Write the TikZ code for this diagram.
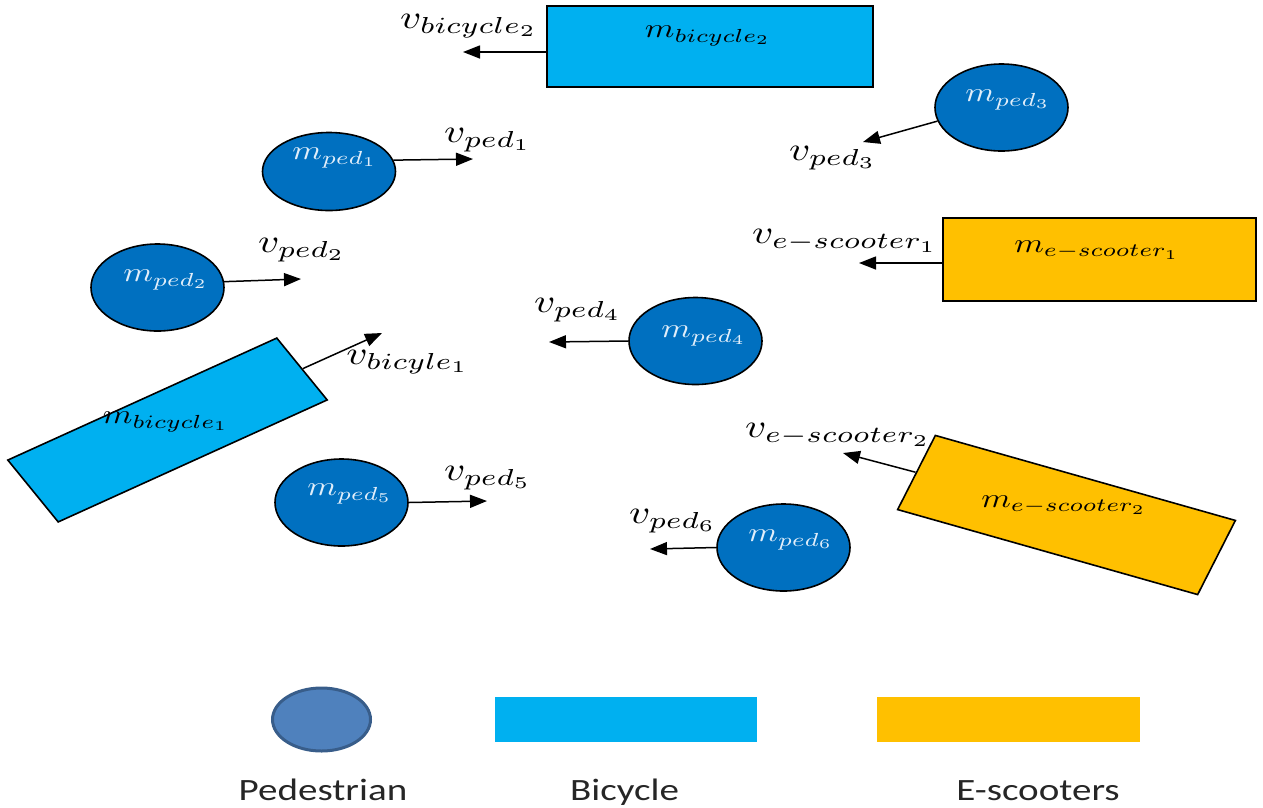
\documentclass[tikz,border=0pt]{standalone}
\usepackage{graphicx}
\usepackage{fontspec}
\newfontfamily\legendfont{Carlito}
\usetikzlibrary{shapes.geometric,arrows.meta}

\definecolor{pedblue}{RGB}{0,112,192}
\definecolor{bikeblue}{RGB}{0,176,240}
\definecolor{scooteryellow}{RGB}{255,192,0}
\definecolor{pedlabel}{RGB}{225,238,250}
\definecolor{legendblue}{RGB}{79,129,189}
\definecolor{legendedge}{RGB}{56,93,138}
\definecolor{legendtext}{RGB}{38,38,38}

% velocity labels, mass labels and legend captions (wide set)
\newcommand\vlab[1]{\scalebox{4.125}[3.3]{$#1$}}
\newcommand\mlab[1]{\scalebox{3.375}[2.7]{$#1$}}
\newcommand\leg[1]{\scalebox{1.26}[1]{\legendfont\fontsize{31}{34}\selectfont #1}}

\begin{document}
\begin{tikzpicture}[x=1pt,y=-1pt,
  ped/.style={ellipse,draw=black,line width=1.6pt,fill=pedblue,
    minimum width=133pt,minimum height=87pt,inner sep=0pt},
  bike/.style={rectangle,draw=black,line width=1.6pt,fill=bikeblue,inner sep=0pt},
  scoot/.style={rectangle,draw=black,line width=1.6pt,fill=scooteryellow,inner sep=0pt},
  vec/.style={line width=1.5pt,-{Triangle[length=17pt,width=13pt]}},
  lab/.style={inner sep=0pt,text=black},
  plab/.style={inner sep=0pt,text=pedlabel}]
\useasboundingbox (0,0) rectangle (1263,807);

% ---------- road users ----------
\node[bike,minimum width=326pt,minimum height=81pt] (bk2) at (710,46.5) {};
\node[ped,minimum height=78pt] (p1) at (329,171.5) {};
\node[ped] (p2) at (157.5,287.5) {};
\node[ped] (p3) at (1001.5,107.5) {};
\node[scoot,minimum width=313pt,minimum height=83pt] (sc1) at (1099.5,259.5) {};
\node[ped] (p4) at (695.5,341) {};
\node[ped] (p5) at (341.5,502.5) {};
\node[ped] (p6) at (783.5,547.5) {};

% tilted vehicles: rotated boxes in a horizontally widened frame
\begin{scope}[xscale=1.34]
  \node[bike,transform shape,minimum width=234.9pt,minimum height=72.4pt,rotate=31.29]
    (bk1) at (125,430) {};
  \node[scoot,transform shape,minimum width=239.5pt,minimum height=79.3pt,rotate=-20.79]
    (sc2) at (795.9,515) {};
\end{scope}

% ---------- mass labels ----------
\node[lab] (mbk2) at (708,36) {\mlab{m_{bicycle_2}}};
\node[plab] (mp1) at (335,158) {\mlab{m_{ped_1}}};
\node[plab] (mp2) at (166,280) {\mlab{m_{ped_2}}};
\node[plab] (mp3) at (1008,100) {\mlab{m_{ped_3}}};
\node[lab] (msc1) at (1097,250) {\mlab{m_{e-scooter_1}}};
\node[plab] (mp4) at (704,336) {\mlab{m_{ped_4}}};
\node[lab] (mbk1) at (166,422) {\mlab{m_{bicycle_1}}};
\node[plab] (mp5) at (350,494) {\mlab{m_{ped_5}}};
\node[lab] (msc2) at (1064,505) {\mlab{m_{e-scooter_2}}};
\node[plab] (mp6) at (791,540) {\mlab{m_{ped_6}}};

% ---------- velocity arrows ----------
\coordinate (tbk2) at (463,52);
\coordinate (tp1) at (473,159);
\coordinate (tp2) at (301,279);
\coordinate (tp3) at (863,142);
\coordinate (tsc1) at (859,263);
\coordinate (tp4) at (549,342);
\coordinate (tbk1) at (382,333);
\coordinate (tp5) at (487,501);
\coordinate (tsc2) at (843,453);
\coordinate (tp6) at (650,549);

\draw[vec] (tbk2 -| bk2.west) -- (tbk2);
\draw[vec] (p1.10) -- (tp1);
\draw[vec] (p2.5) -- (tp2);
\draw[vec] (p3.192) -- (tp3);
\draw[vec] (tsc1 -| sc1.west) -- (tsc1);
\draw[vec] (p4.west) -- (tp4);
\draw[vec] (bk1.east) -- (tbk1);
\draw[vec] (p5.east) -- (tp5);
\draw[vec] (sc2.west) -- (tsc2);
\draw[vec] (p6.west) -- (tp6);

% ---------- velocity labels ----------
\node[lab] (vbk2) at (469,26) {\vlab{v_{bicycle_2}}};
\node[lab] (vp1) at (488,140) {\vlab{v_{ped_1}}};
\node[lab] (vp2) at (302,250) {\vlab{v_{ped_2}}};
\node[lab] (vp3) at (833,158) {\vlab{v_{ped_3}}};
\node[lab] (vsc1) at (845,241) {\vlab{v_{e-scooter_1}}};
\node[lab] (vp4) at (578,310) {\vlab{v_{ped_4}}};
\node[lab] (vbk1) at (408,362) {\vlab{v_{bicyle_1}}};
\node[lab] (vp5) at (488,478) {\vlab{v_{ped_5}}};
\node[lab] (vsc2) at (838,435) {\vlab{v_{e-scooter_2}}};
\node[lab] (vp6) at (673,521) {\vlab{v_{ped_6}}};

% ---------- legend ----------
\node[ellipse,fill=legendblue,draw=legendedge,line width=3pt,
  minimum width=98pt,minimum height=63pt,inner sep=0pt] (lped) at (321.5,719.5) {};
\node[fill=bikeblue,minimum width=262pt,minimum height=45pt,inner sep=0pt] (lbike) at (626,719.5) {};
\node[fill=scooteryellow,minimum width=263pt,minimum height=45pt,inner sep=0pt] (lscoot) at (1008.5,719.5) {};

\node[anchor=base,inner sep=0pt,text=legendtext] (tped) at (323,800) {\leg{Pedestrian}};
\node[anchor=base,inner sep=0pt,text=legendtext] (tbike) at (624.5,800) {\leg{Bicycle}};
\node[anchor=base,inner sep=0pt,text=legendtext] (tscoot) at (1038,800) {\leg{E-scooters}};
\end{tikzpicture}
\end{document}
